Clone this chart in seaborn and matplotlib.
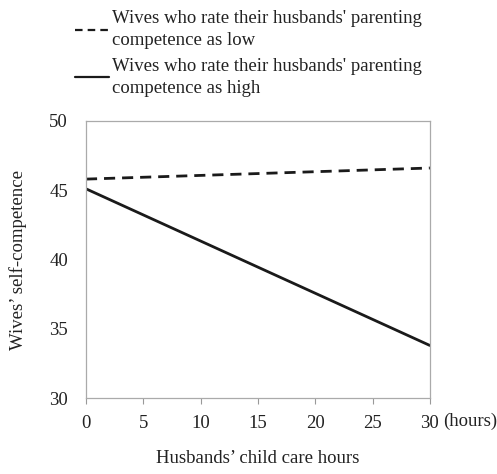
import pandas as pd
import matplotlib.pyplot as plt
import seaborn as sns

# Werte
hours = [0, 30]
low_rating = [45.8, 46.6]
high_rating = [45.1, 33.8]
labels = ["Wives who rate their husbands' parenting\ncompetence as low",
          "Wives who rate their husbands' parenting\ncompetence as high"]
x_ticks = [0, 5, 10, 15, 20, 25, 30]
y_ticks = [30, 35, 40, 45, 50]

df = pd.DataFrame({
    "hours": hours * 2,
    "value": low_rating + high_rating,
    "group": [labels[0]] * 2 + [labels[1]] * 2,
})

sns.set_style("white")
plt.rcParams["font.family"] = ["Liberation Serif", "DejaVu Serif"]
fs = 13.5

fig = plt.figure(figsize=(4.97, 4.74), dpi=100)
ax = fig.add_axes([0.173, 0.160, 0.692, 0.585])

sns.lineplot(data=df, x="hours", y="value", hue="group", style="group",
             palette=["#1a1a1a", "#1a1a1a"], dashes=[(4, 2.5), ""],
             linewidth=2, ax=ax, legend=False)

ax.set_xlim(0, 30)
ax.set_ylim(30, 50)
ax.set_xticks(x_ticks)
ax.set_yticks(y_ticks)
ax.tick_params(axis="x", direction="out", length=4, width=0.8, color="#999999",
               labelsize=fs, pad=8, bottom=True)
ax.tick_params(axis="y", length=0, labelsize=fs, pad=13)
for s in ax.spines.values():
    s.set_color("#aaaaaa")
    s.set_linewidth(0.9)

ax.text(1.038, -0.083, "(hours)", transform=ax.transAxes, fontsize=fs,
        ha="left", va="center", color="#222222")
ax.set_xlabel("Husbands’ child care hours", fontsize=fs, labelpad=13, color="#222222")
ax.set_ylabel("Wives’ self-competence", fontsize=fs, labelpad=16, color="#222222")
for t in ax.get_xticklabels() + ax.get_yticklabels():
    t.set_color("#222222")

handles = [plt.Line2D([], [], color="#1a1a1a", lw=1.6, ls=(0, (3.4, 2.3))),
           plt.Line2D([], [], color="#1a1a1a", lw=1.6)]
leg = fig.legend(handles, labels, loc="upper left", bbox_to_anchor=(0.13, 1.0),
                 frameon=False, fontsize=fs, handlelength=1.8, handletextpad=0.2,
                 labelspacing=0.5, labelcolor="#222222", borderaxespad=0.15)
for t in leg.get_texts():
    t.set_linespacing(1.35)

fig.savefig("out.png", dpi=100)
